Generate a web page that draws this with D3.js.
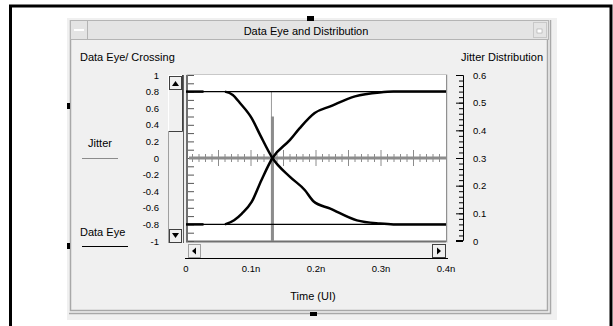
<!DOCTYPE html>
<html>
<head>
<meta charset="utf-8">
<script src="https://cdn.jsdelivr.net/npm/d3@7"></script>
<style>
body{margin:0;background:#fff;}
text{font-family:"Liberation Sans",Arial,sans-serif;fill:#000;}
</style>
</head>
<body>
<script>
const WIDTH = 613;
const HEIGHT = 326;

// time axis (ns) and values
const timeTicks = [0, 0.1, 0.2, 0.3, 0.4];
const timeLabels = ["0", "0.1n", "0.2n", "0.3n", "0.4n"];
const eyeTicks = [1, 0.8, 0.6, 0.4, 0.2, 0, -0.2, -0.4, -0.6, -0.8, -1];
const distTicks = [0.6, 0.5, 0.4, 0.3, 0.2, 0.1, 0];

const fallTime = [0.060, 0.072, 0.083, 0.101, 0.114, 0.133, 0.160, 0.183, 0.196, 0.222, 0.263, 0.298, 0.319, 0.4];
const fallVal  = [0.8, 0.76, 0.663, 0.481, 0.279, 0, -0.227, -0.388, -0.521, -0.610, -0.752, -0.79, -0.8, -0.8];
const riseTime = [0.060, 0.074, 0.086, 0.101, 0.116, 0.133, 0.160, 0.175, 0.198, 0.222, 0.260, 0.298, 0.319, 0.4];
const riseVal  = [-0.8, -0.75, -0.670, -0.53, -0.267, 0, 0.218, 0.36, 0.542, 0.622, 0.743, 0.79, 0.8, 0.8];
const eyeLevels = [0.8, -0.8];
const eyeEdge = [0, 0.027];

const jitterTime = [0.133];
const jitterProb = [0.45];

function setup(){
    let svg = d3.select("body").append("svg")
        .attr("width", WIDTH).attr("height", HEIGHT);

    // outer black frame
    svg.append("path").attr("d", "M10.5,330 V6 H611 V330")
        .attr("fill", "none").attr("stroke", "#000").attr("stroke-width", 3);

    // window panel
    svg.append("rect").attr("x", 67).attr("y", 18).attr("width", 490).attr("height", 302).attr("fill", "#f0f0f0");
    let frame = svg.append("g").attr("fill", "none").attr("stroke", "#a8a8a8").attr("stroke-width", 1.5);
    frame.append("path").attr("d", "M70.5,20 V310.5 H547.5 V20");
    frame.append("path").attr("d", "M69,313.5 H550.5 V20");

    // title bar
    svg.append("rect").attr("x", 70.5).attr("y", 20.5).attr("width", 478).attr("height", 19)
        .attr("fill", "#e4e4e4").attr("stroke", "#b4b4b4");
    svg.append("rect").attr("x", 70.5).attr("y", 20.5).attr("width", 17).attr("height", 19)
        .attr("fill", "#e4e4e4").attr("stroke", "#b4b4b4");
    svg.append("line").attr("x1", 74).attr("x2", 84).attr("y1", 30).attr("y2", 30)
        .attr("stroke", "#fff").attr("stroke-width", 2);
    svg.append("rect").attr("x", 533.5).attr("y", 22.5).attr("width", 13).attr("height", 15)
        .attr("fill", "#e4e4e4").attr("stroke", "#c8c8c8");
    svg.append("rect").attr("x", 537).attr("y", 29).attr("width", 5).attr("height", 4)
        .attr("fill", "#fff").attr("stroke", "#999").attr("stroke-width", 0.5);
    svg.append("text").attr("x", 306).attr("y", 34.5).attr("text-anchor", "middle")
        .style("font-size", "11px").text("Data Eye and Distribution");

    // selection handles
    [[307, 16, 7, 5], [310, 312, 7, 4], [67, 103, 3, 6], [67, 243, 3, 6]].forEach(h => {
        svg.append("rect").attr("x", h[0]).attr("y", h[1]).attr("width", h[2]).attr("height", h[3]).attr("fill", "#000");
    });

    svg.append("text").attr("x", 80).attr("y", 61).style("font-size", "11px").text("Data Eye/ Crossing");
    svg.append("text").attr("x", 543).attr("y", 61).attr("text-anchor", "end").style("font-size", "11px").text("Jitter Distribution");

    let x = d3.scaleLinear().domain([0, 0.4]).range([186, 446]);
    let y = d3.scaleLinear().domain([-1, 1]).range([241, 75]);
    let yR = d3.scaleLinear().domain([0, 0.6]).range([241, 75]);

    // plot background and sunken border
    svg.append("rect").attr("x", 186).attr("y", 75).attr("width", 260).attr("height", 167).attr("fill", "#fff");
    svg.append("path").attr("d", "M187,243 V74.5 H447 V243").attr("fill", "none").attr("stroke", "#c8c8c8");
    svg.append("path").attr("d", "M187,75 V241.5 H446").attr("fill", "none").attr("stroke", "#707070").attr("stroke-width", 2);
    svg.append("line").attr("x1", 446.5).attr("x2", 446.5).attr("y1", 75).attr("y2", 242).attr("stroke", "#909090");

    // inner left ticks
    svg.append("g").attr("transform", "translate(188,0)")
        .call(d3.axisRight(y).ticks(20).tickSize(6).tickFormat(""))
        .call(g => g.select(".domain").remove())
        .call(g => g.selectAll("line").attr("stroke", "#555"));

    // left labels (plain hyphen minus, as in the picture)
    svg.append("g").selectAll("text").data(eyeTicks).enter().append("text")
        .attr("x", 159).attr("y", d => y(d) + 3.5).attr("text-anchor", "end")
        .style("font-size", "9.5px").text(d => String(d));

    // zero line with time ticks
    let zg = svg.append("g").attr("stroke", "#8c8c8c");
    zg.append("line").attr("x1", 189).attr("x2", 446).attr("y1", y(0)).attr("y2", y(0)).attr("stroke-width", 3);
    zg.selectAll(".minor").data(d3.range(1, 40).map(i => i / 100)).enter().append("line")
        .attr("x1", d => x(d)).attr("x2", d => x(d))
        .attr("y1", d => y(0) - ((Math.round(d * 100) % 5 === 0) ? 8 : 4))
        .attr("y2", d => y(0) + ((Math.round(d * 100) % 5 === 0) ? 8 : 4))
        .attr("stroke-width", 1);

    // jitter distribution
    svg.append("line").attr("x1", x(jitterTime[0]) - 1).attr("x2", x(jitterTime[0]) - 1)
        .attr("y1", y(0.8)).attr("y2", 241).attr("stroke", "#9a9a9a").attr("stroke-width", 1);
    svg.selectAll(".bin").data(jitterTime).enter().append("rect")
        .attr("x", d => x(d) - 1.5).attr("width", 3)
        .attr("y", (d, i) => yR(jitterProb[i])).attr("height", (d, i) => yR(0) - yR(jitterProb[i]))
        .attr("fill", "#8c8c8c");

    // eye levels
    svg.selectAll(".lvl").data(eyeLevels).enter().append("line")
        .attr("x1", 188).attr("x2", 446).attr("y1", d => y(d)).attr("y2", d => y(d))
        .attr("stroke", "#000").attr("stroke-width", 1.2);
    eyeLevels.forEach(v => {
        svg.append("line").attr("x1", x(eyeEdge[0])).attr("x2", x(eyeEdge[1]))
            .attr("y1", y(v)).attr("y2", y(v)).attr("stroke", "#000").attr("stroke-width", 2.5);
    });

    let line = d3.line().x(d => x(d[0])).y(d => y(d[1])).curve(d3.curveMonotoneX);
    svg.append("path").datum(d3.zip(fallTime, fallVal)).attr("d", line)
        .attr("fill", "none").attr("stroke", "#000").attr("stroke-width", 2.5);
    svg.append("path").datum(d3.zip(riseTime, riseVal)).attr("d", line)
        .attr("fill", "none").attr("stroke", "#000").attr("stroke-width", 2.5);

    // right axis
    svg.append("g").attr("transform", "translate(463,0)")
        .call(d3.axisRight(yR).ticks(30).tickSize(-4).tickFormat(""))
        .call(g => g.select(".domain").remove());
    svg.append("g").attr("transform", "translate(463,0)")
        .call(d3.axisRight(yR).tickValues(distTicks).tickSizeInner(-7).tickSizeOuter(-7).tickPadding(10).tickFormat(d => String(d)))
        .call(g => g.selectAll("text").style("font-size", "9.5px").attr("text-anchor", "start"))
        .call(g => g.select(".domain").attr("d", "M-7,75.5 H0.5 V240.5 H-7"));

    // vertical scrollbar
    let vs = svg.append("g");
    vs.append("line").attr("x1", 168.5).attr("x2", 168.5).attr("y1", 89).attr("y2", 243).attr("stroke", "#a0a0a0");
    vs.append("path").attr("d", "M169,131.5 H182.5 V75").attr("fill", "none").attr("stroke", "#404040");
    vs.append("path").attr("d", "M168.5,131 V75.5 H182").attr("fill", "none").attr("stroke", "#fff");
    vs.append("rect").attr("x", 169.5).attr("y", 76.5).attr("width", 12).attr("height", 13).attr("fill", "#f0f0f0").attr("stroke", "#404040");
    vs.append("path").attr("d", "M172,86 L175.5,81 L179,86 Z").attr("fill", "#000");
    vs.append("rect").attr("x", 169.5).attr("y", 229.5).attr("width", 12).attr("height", 13).attr("fill", "#f0f0f0").attr("stroke", "#404040");
    vs.append("path").attr("d", "M172,233 L179,233 L175.5,238 Z").attr("fill", "#000");
    vs.append("line").attr("x1", 183.5).attr("x2", 183.5).attr("y1", 75).attr("y2", 243).attr("stroke", "#606060");

    // horizontal scrollbar
    let hs = svg.append("g");
    hs.append("line").attr("x1", 185).attr("x2", 448).attr("y1", 258.5).attr("y2", 258.5).attr("stroke", "#000");
    hs.append("rect").attr("x", 188.5).attr("y", 244.5).attr("width", 12).attr("height", 13).attr("fill", "#f0f0f0").attr("stroke", "#a0a0a0");
    hs.append("path").attr("d", "M196,247.5 L196,254.5 L192,251 Z").attr("fill", "#000");
    hs.append("rect").attr("x", 432.5).attr("y", 244.5).attr("width", 13).attr("height", 13).attr("fill", "#f0f0f0").attr("stroke", "#404040");
    hs.append("path").attr("d", "M437,247.5 L437,254.5 L441,251 Z").attr("fill", "#000");

    // time labels
    svg.append("g").selectAll("text").data(timeTicks).enter().append("text")
        .attr("x", d => x(d)).attr("y", 272).attr("text-anchor", "middle")
        .style("font-size", "9.5px").text((d, i) => timeLabels[i]);
    svg.append("text").attr("x", 313).attr("y", 300).attr("text-anchor", "middle")
        .style("font-size", "11px").text("Time (UI)");

    // legend
    svg.append("text").attr("x", 100).attr("y", 147).attr("text-anchor", "middle").style("font-size", "11px").text("Jitter");
    svg.append("line").attr("x1", 82).attr("x2", 118).attr("y1", 158.5).attr("y2", 158.5).attr("stroke", "#8c8c8c");
    svg.append("text").attr("x", 80).attr("y", 236).style("font-size", "11px").text("Data Eye");
    svg.append("line").attr("x1", 82).attr("x2", 128).attr("y1", 246.5).attr("y2", 246.5).attr("stroke", "#000");
}

window.addEventListener("load", setup);
</script>
</body>
</html>
